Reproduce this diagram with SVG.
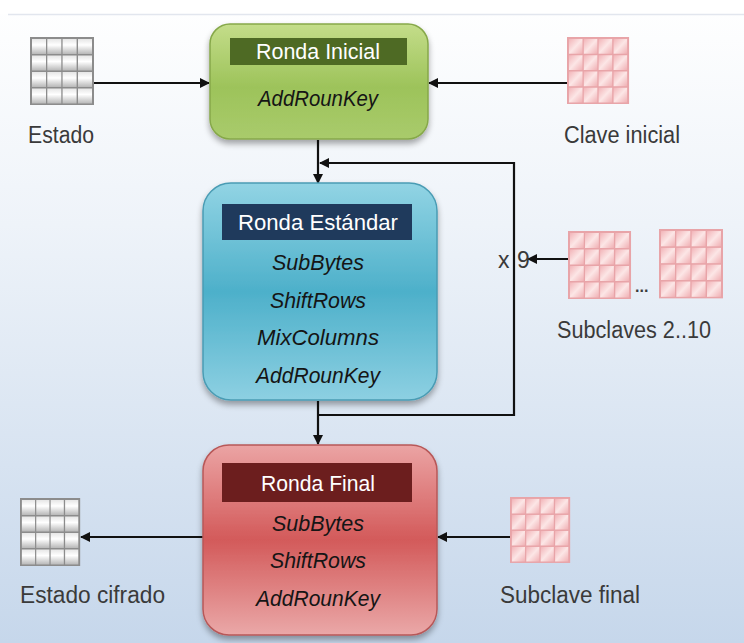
<svg xmlns="http://www.w3.org/2000/svg" xmlns:xlink="http://www.w3.org/1999/xlink" width="744" height="643" viewBox="0 0 744 643">
<style>
.lbl{font-family:"Liberation Sans","Open Sans",sans-serif;font-size:23px;fill:#3a3a3a}
.hdr{font-family:"Liberation Sans","Open Sans",sans-serif;font-size:22px;fill:#ffffff;text-anchor:middle}
.op{font-family:"Liberation Sans","Open Sans",sans-serif;font-size:22px;font-style:italic;fill:#151515;text-anchor:middle}
.conn{stroke:#111;stroke-width:2.2;fill:none}
</style>
<defs>
<linearGradient id="bg" x1="0" y1="0" x2="0" y2="1">
<stop offset="0" stop-color="#ffffff"/>
<stop offset="0.35" stop-color="#eef3f9"/>
<stop offset="1" stop-color="#c6d7eb"/>
</linearGradient>
<linearGradient id="gGreen" x1="0" y1="0" x2="0" y2="1">
<stop offset="0" stop-color="#c4dd8a"/>
<stop offset="0.55" stop-color="#9dc35a"/>
<stop offset="1" stop-color="#a9cb6c"/>
</linearGradient>
<linearGradient id="gBlue" x1="0" y1="0" x2="0" y2="1">
<stop offset="0" stop-color="#92d4e4"/>
<stop offset="0.5" stop-color="#4db0ca"/>
<stop offset="1" stop-color="#8dd0e2"/>
</linearGradient>
<linearGradient id="gRed" x1="0" y1="0" x2="0" y2="1">
<stop offset="0" stop-color="#eba4a4"/>
<stop offset="0.5" stop-color="#d35a5a"/>
<stop offset="1" stop-color="#eaa8a8"/>
</linearGradient>
<linearGradient id="cellGray" x1="0" y1="0" x2="0" y2="1">
<stop offset="0" stop-color="#e6e6e6"/>
<stop offset="0.4" stop-color="#ffffff"/>
<stop offset="1" stop-color="#b8b8b8"/>
</linearGradient>
<linearGradient id="cellPink" x1="0" y1="0" x2="1" y2="1">
<stop offset="0" stop-color="#f2b4b8"/>
<stop offset="0.5" stop-color="#fce6e6"/>
<stop offset="1" stop-color="#f0b0b4"/>
</linearGradient>
<filter id="sh" x="-10%" y="-10%" width="120%" height="125%">
<feGaussianBlur in="SourceAlpha" stdDeviation="3"/>
<feOffset dy="4"/>
<feComponentTransfer><feFuncA type="linear" slope="0.35"/></feComponentTransfer>
<feMerge><feMergeNode/><feMergeNode in="SourceGraphic"/></feMerge>
</filter>
<marker id="arr" viewBox="0 0 10 10" refX="9" refY="5" markerWidth="10" markerHeight="10" orient="auto" markerUnits="userSpaceOnUse">
<path d="M0,0 L10,5 L0,10 z" fill="#111"/>
</marker>
<g id="gridGray">
<rect x="0" y="0" width="64" height="68" fill="#8c8c8c"/>
<g fill="url(#cellGray)">
<rect x="2" y="2" width="14" height="15"/><rect x="17.3" y="2" width="14" height="15"/><rect x="32.6" y="2" width="14" height="15"/><rect x="48" y="2" width="14" height="15"/>
<rect x="2" y="18.5" width="14" height="15"/><rect x="17.3" y="18.5" width="14" height="15"/><rect x="32.6" y="18.5" width="14" height="15"/><rect x="48" y="18.5" width="14" height="15"/>
<rect x="2" y="35" width="14" height="15"/><rect x="17.3" y="35" width="14" height="15"/><rect x="32.6" y="35" width="14" height="15"/><rect x="48" y="35" width="14" height="15"/>
<rect x="2" y="51.5" width="14" height="15"/><rect x="17.3" y="51.5" width="14" height="15"/><rect x="32.6" y="51.5" width="14" height="15"/><rect x="48" y="51.5" width="14" height="15"/>
</g>
</g>
<g id="gridPink">
<rect x="0" y="0" width="64" height="68" fill="#e8a4a8"/>
<g fill="url(#cellPink)">
<rect x="2" y="2" width="14" height="15"/><rect x="17.3" y="2" width="14" height="15"/><rect x="32.6" y="2" width="14" height="15"/><rect x="48" y="2" width="14" height="15"/>
<rect x="2" y="18.5" width="14" height="15"/><rect x="17.3" y="18.5" width="14" height="15"/><rect x="32.6" y="18.5" width="14" height="15"/><rect x="48" y="18.5" width="14" height="15"/>
<rect x="2" y="35" width="14" height="15"/><rect x="17.3" y="35" width="14" height="15"/><rect x="32.6" y="35" width="14" height="15"/><rect x="48" y="35" width="14" height="15"/>
<rect x="2" y="51.5" width="14" height="15"/><rect x="17.3" y="51.5" width="14" height="15"/><rect x="32.6" y="51.5" width="14" height="15"/><rect x="48" y="51.5" width="14" height="15"/>
</g>
</g>
</defs>

<rect x="0" y="0" width="744" height="643" fill="url(#bg)"/>
<rect x="0" y="0" width="744" height="14" fill="#ffffff"/>
<line x1="8" y1="14.5" x2="744" y2="14.5" stroke="#e2e6ee" stroke-width="1.5"/>

<g id="connectors">
<line class="conn" x1="94" y1="83" x2="209" y2="83" marker-end="url(#arr)"/>
<line class="conn" x1="567" y1="83" x2="429" y2="83" marker-end="url(#arr)"/>
<line class="conn" x1="318" y1="140" x2="318" y2="183" marker-end="url(#arr)"/>
<polyline class="conn" points="318,415 514,415 514,163 320,163" marker-end="url(#arr)"/>
<line class="conn" x1="568" y1="259" x2="528" y2="259" marker-end="url(#arr)"/>
<line class="conn" x1="318" y1="401" x2="318" y2="444" marker-end="url(#arr)"/>
<line class="conn" x1="203" y1="537" x2="81" y2="537" marker-end="url(#arr)"/>
<line class="conn" x1="510" y1="537" x2="438" y2="537" marker-end="url(#arr)"/>
</g>

<g id="ronda-inicial">
<rect x="210" y="24" width="218" height="115" rx="20" fill="url(#gGreen)" stroke="#86a84a" stroke-width="1.5" filter="url(#sh)"/>
<rect x="230" y="38" width="177" height="27" fill="#4e6a24"/>
<text class="hdr" x="318" y="59" textLength="124" lengthAdjust="spacingAndGlyphs">Ronda Inicial</text>
<text class="op" x="318" y="106" textLength="120" lengthAdjust="spacingAndGlyphs">AddRounKey</text>
</g>

<g id="ronda-estandar">
<rect x="203" y="183" width="234" height="217" rx="28" fill="url(#gBlue)" stroke="#4a9cb4" stroke-width="1.5" filter="url(#sh)"/>
<rect x="222" y="204" width="190" height="36" fill="#1f3a5c"/>
<text class="hdr" x="318" y="230" textLength="160" lengthAdjust="spacingAndGlyphs">Ronda Estándar</text>
<text class="op" x="318" y="270" textLength="92" lengthAdjust="spacingAndGlyphs">SubBytes</text>
<text class="op" x="318" y="308" textLength="96" lengthAdjust="spacingAndGlyphs">ShiftRows</text>
<text class="op" x="318" y="345" textLength="122" lengthAdjust="spacingAndGlyphs">MixColumns</text>
<text class="op" x="318" y="383" textLength="124" lengthAdjust="spacingAndGlyphs">AddRounKey</text>
</g>

<g id="ronda-final">
<rect x="203" y="445" width="234" height="190" rx="26" fill="url(#gRed)" stroke="#b85858" stroke-width="1.5" filter="url(#sh)"/>
<rect x="222" y="463" width="190" height="39" fill="#6c1e1e"/>
<text class="hdr" x="318" y="491" textLength="114" lengthAdjust="spacingAndGlyphs">Ronda Final</text>
<text class="op" x="318" y="531" textLength="92" lengthAdjust="spacingAndGlyphs">SubBytes</text>
<text class="op" x="318" y="568" textLength="96" lengthAdjust="spacingAndGlyphs">ShiftRows</text>
<text class="op" x="318" y="606" textLength="124" lengthAdjust="spacingAndGlyphs">AddRounKey</text>
</g>

<g id="estado">
<use xlink:href="#gridGray" transform="translate(30,37)"/>
<text class="lbl" x="28" y="143" textLength="66" lengthAdjust="spacingAndGlyphs">Estado</text>
</g>

<g id="clave-inicial">
<use xlink:href="#gridPink" transform="translate(567,37) scale(0.97,0.985)"/>
<text class="lbl" x="564" y="143" textLength="116" lengthAdjust="spacingAndGlyphs">Clave inicial</text>
</g>

<g id="x9">
<text class="lbl" x="498" y="268">x</text>
<text class="lbl" x="517" y="268">9</text>
</g>

<g id="subclaves">
<use xlink:href="#gridPink" transform="translate(568,231) scale(0.985,1)"/>
<text class="lbl" x="635" y="292" style="font-size:16px;font-weight:bold">...</text>
<use xlink:href="#gridPink" transform="translate(659,229) scale(1,1.02)"/>
<text class="lbl" x="557" y="338" textLength="154" lengthAdjust="spacingAndGlyphs">Subclaves 2..10</text>
</g>

<g id="estado-cifrado">
<use xlink:href="#gridGray" transform="translate(20,498) scale(0.94,1)"/>
<text class="lbl" x="20" y="603" textLength="145" lengthAdjust="spacingAndGlyphs">Estado cifrado</text>
</g>

<g id="subclave-final">
<use xlink:href="#gridPink" transform="translate(510,497) scale(0.94,0.97)"/>
<text class="lbl" x="500" y="603" textLength="140" lengthAdjust="spacingAndGlyphs">Subclave final</text>
</g>
</svg>
